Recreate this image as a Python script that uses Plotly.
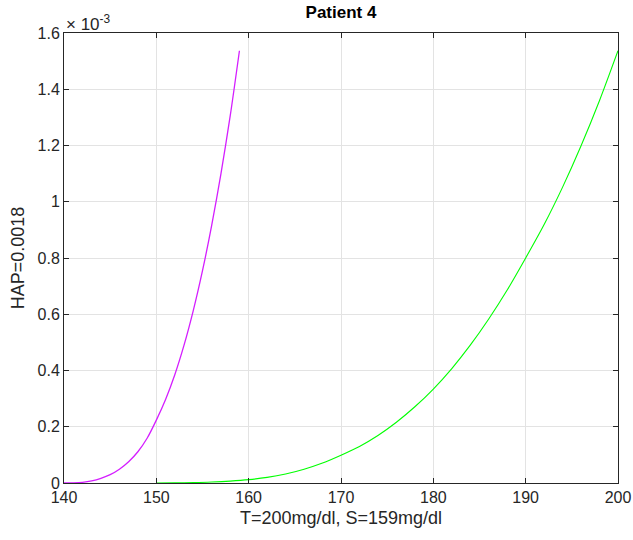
import plotly.graph_objects as go

# HAP values in units of 1e-3
x_magenta = [140, 141, 142, 143, 144, 145, 146, 147, 148, 149, 150, 151, 152, 153, 154, 155, 156, 157, 158, 159]
hap_magenta = [0, 0.0005, 0.0025, 0.0075, 0.0165, 0.0295, 0.049, 0.0755, 0.111, 0.159, 0.2235,
               0.297, 0.385, 0.49, 0.613, 0.755, 0.917, 1.10, 1.305, 1.537]

x_green = [150, 152, 154, 156, 158, 160, 162, 164, 166, 168, 170, 172, 174, 176, 178, 180,
           182, 184, 186, 188, 190, 192, 194, 196, 198, 200]
hap_green = [0, 0.0003, 0.0013, 0.0033, 0.0068, 0.012, 0.02, 0.032, 0.049, 0.071, 0.099, 0.13, 0.169,
             0.216, 0.271, 0.334, 0.407, 0.49, 0.583, 0.686, 0.80, 0.919, 1.052, 1.199, 1.36, 1.537]

x_ticks = [140, 150, 160, 170, 180, 190, 200]
y_ticks = [0, 0.2, 0.4, 0.6, 0.8, 1.0, 1.2, 1.4, 1.6]
y_ticktext = ["0", "0.2", "0.4", "0.6", "0.8", "1", "1.2", "1.4", "1.6"]

FONT = "Liberation Sans, Arial, sans-serif"

fig = go.Figure()
fig.add_trace(go.Scatter(x=x_magenta, y=hap_magenta, mode="lines",
                         line=dict(color="#d41eff", width=1.3, shape="spline", smoothing=0.8)))
fig.add_trace(go.Scatter(x=x_green, y=hap_green, mode="lines",
                         line=dict(color="#00ff00", width=1.1, shape="spline", smoothing=0.8)))

axis_common = dict(showline=True, linecolor="#262626", linewidth=1, mirror="ticks",
                   ticks="inside", ticklen=5, tickcolor="#262626", automargin=False,
                   showgrid=True, gridcolor="#e3e3e3", gridwidth=1, zeroline=False,
                   tickfont=dict(family=FONT, size=16, color="#262626"))

fig.update_xaxes(range=[140, 200], tickvals=x_ticks,
                 title=dict(text="T=200mg/dl, S=159mg/dl", standoff=6,
                            font=dict(family=FONT, size=18, color="#262626")),
                 **axis_common)
fig.update_yaxes(range=[0, 1.6], tickvals=y_ticks, ticktext=y_ticktext,
                 title=dict(text="HAP=0.0018", standoff=8,
                            font=dict(family=FONT, size=18, color="#262626")),
                 **axis_common)

fig.add_annotation(text="× 10<sup>-3</sup>", xref="paper", yref="paper", x=0, y=1.0,
                   xanchor="left", yanchor="bottom", showarrow=False, yshift=-3,
                   font=dict(family=FONT, size=17, color="#262626"))

fig.update_layout(
    width=633, height=540,
    margin=dict(l=64, r=15, t=33, b=57),
    paper_bgcolor="white", plot_bgcolor="white",
    showlegend=False,
    title=dict(text="<b>Patient 4</b>", x=0.5, xref="paper", y=0.989, yref="container", yanchor="top",
               font=dict(family=FONT, size=17, color="black")),
)

fig.write_html("out.html", config={"displayModeBar": False},
               post_script="document.body.style.margin='0';")
